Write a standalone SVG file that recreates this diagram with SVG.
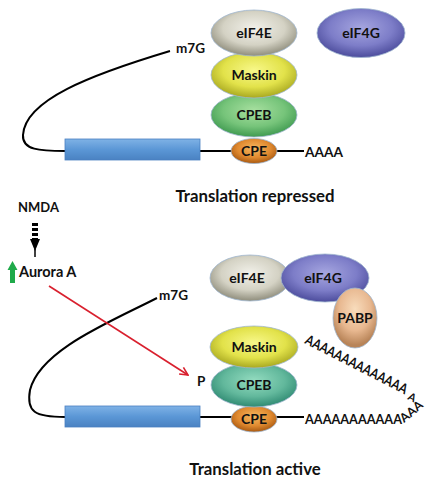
<svg xmlns="http://www.w3.org/2000/svg" width="434" height="483" viewBox="0 0 434 483">
<defs>
<radialGradient id="gE" cx="50%" cy="40%" r="60%"><stop offset="0" stop-color="#f2f1ea"/><stop offset="0.6" stop-color="#d4d2c4"/><stop offset="1" stop-color="#8f8d7c"/></radialGradient>
<radialGradient id="gG" cx="50%" cy="40%" r="60%"><stop offset="0" stop-color="#a6a6e0"/><stop offset="0.6" stop-color="#7d7dc8"/><stop offset="1" stop-color="#4c4c9c"/></radialGradient>
<radialGradient id="gM" cx="50%" cy="40%" r="60%"><stop offset="0" stop-color="#f8f88a"/><stop offset="0.6" stop-color="#e2e24a"/><stop offset="1" stop-color="#a8a820"/></radialGradient>
<radialGradient id="gC1" cx="50%" cy="40%" r="60%"><stop offset="0" stop-color="#a8e0a0"/><stop offset="0.6" stop-color="#76c47a"/><stop offset="1" stop-color="#3f9a50"/></radialGradient>
<radialGradient id="gC2" cx="50%" cy="40%" r="60%"><stop offset="0" stop-color="#94dcc0"/><stop offset="0.6" stop-color="#62b89c"/><stop offset="1" stop-color="#2f8a72"/></radialGradient>
<radialGradient id="gO" cx="50%" cy="40%" r="60%"><stop offset="0" stop-color="#f6b860"/><stop offset="0.6" stop-color="#e08a30"/><stop offset="1" stop-color="#a85810"/></radialGradient>
<radialGradient id="gP" cx="50%" cy="35%" r="60%"><stop offset="0" stop-color="#f8dcbc"/><stop offset="0.6" stop-color="#e8b890"/><stop offset="1" stop-color="#b88458"/></radialGradient>
<linearGradient id="gR" x1="0" y1="0" x2="0" y2="1"><stop offset="0" stop-color="#7fb2e6"/><stop offset="0.5" stop-color="#5b97d6"/><stop offset="1" stop-color="#4a82c2"/></linearGradient>
<marker id="redHead" viewBox="0 0 10 10" refX="9" refY="5" markerWidth="10" markerHeight="10" markerUnits="userSpaceOnUse" orient="auto">
<path d="M1,1 L9,5 L1,9" fill="none" stroke="#d9202e" stroke-width="1.6"/>
</marker>
</defs>
<style>
.t{font-family:Lato,"Open Sans","Liberation Sans",sans-serif;font-weight:bold;fill:#111;}
.lbl{font-size:14px;text-anchor:middle;}
.blob{stroke:#9fb6cf;stroke-width:0.8;}
.wire{fill:none;stroke:#000;stroke-width:2;}
.poly{font-size:14px;}
</style>

<g id="connectors">
<path class="wire" d="M170,51 C 90,75 25,100 23,135 C 22,150 40,151 65,151"/>
<line class="wire" x1="200" y1="151" x2="232" y2="151"/>
<line class="wire" x1="276" y1="151" x2="304" y2="151"/>
<path class="wire" d="M157,298 C 110,322 40,350 30,390 C 26,412 35,417 65,417"/>
<line class="wire" x1="200" y1="417" x2="232" y2="417"/>
<line class="wire" x1="276" y1="417" x2="304" y2="417"/>
<line x1="49" y1="286" x2="188" y2="375" stroke="#d9202e" stroke-width="1.6" marker-end="url(#redHead)"/>
<g id="nmda-arrow">
<line x1="35" y1="223" x2="35" y2="239" stroke="#000" stroke-width="6" stroke-dasharray="3,2"/>
<polygon points="30,239 40,239 35,251" fill="#000"/>
<line x1="35" y1="249" x2="35" y2="257" stroke="#000" stroke-width="1.5"/>
</g>
<polygon id="up-arrow" points="12.5,261 17.5,270 15,270 15,283 10,283 10,270 7.5,270" fill="#1faa4a"/>
</g>

<g id="top-mrna">
<rect x="65" y="139" width="135" height="21" fill="url(#gR)" stroke="#4a7fc0" stroke-width="0.8"/>
<text class="t" x="176" y="53" font-size="13.5">m7G</text>
<text class="t" x="305" y="157" font-size="14" textLength="38" lengthAdjust="spacingAndGlyphs">AAAA</text>
</g>
<g id="top-CPE"><ellipse class="blob" cx="254" cy="151" rx="23" ry="12.5" fill="url(#gO)"/><text class="t lbl" x="254" y="156">CPE</text></g>
<g id="top-CPEB"><ellipse class="blob" cx="254" cy="115" rx="43" ry="22" fill="url(#gC1)"/><text class="t lbl" x="254" y="120">CPEB</text></g>
<g id="top-Maskin"><ellipse class="blob" cx="254" cy="75" rx="43" ry="23" fill="url(#gM)"/><text class="t lbl" x="254" y="80">Maskin</text></g>
<g id="top-eIF4E"><ellipse class="blob" cx="254" cy="33" rx="43" ry="23" fill="url(#gE)"/><text class="t lbl" x="254" y="38">eIF4E</text></g>
<g id="top-eIF4G"><ellipse class="blob" cx="361" cy="33" rx="44" ry="24.5" fill="url(#gG)"/><text class="t lbl" x="361" y="38">eIF4G</text></g>
<text class="t" x="255" y="202" font-size="16.8" text-anchor="middle">Translation repressed</text>

<g id="nmda"><text class="t" x="18" y="212" font-size="13">NMDA</text></g>
<g id="aurora"><text class="t" x="19" y="277" font-size="14.5">Aurora A</text></g>

<g id="bottom-mrna">
<rect x="65" y="406" width="135" height="21" fill="url(#gR)" stroke="#4a7fc0" stroke-width="0.8"/>
<text class="t" x="159" y="300" font-size="13.5">m7G</text>
<text class="t" x="197" y="386" font-size="13.5">P</text>
<text class="t poly" x="305" y="424" textLength="97" lengthAdjust="spacingAndGlyphs">AAAAAAAAAAA</text>
<text class="t" transform="translate(404,423) rotate(-40)" font-size="12" textLength="26" lengthAdjust="spacingAndGlyphs">AAA</text>
<text class="t poly" transform="translate(304,343) rotate(27)" textLength="113" lengthAdjust="spacingAndGlyphs">AAAAAAAAAAAAAA</text>
<text class="t" transform="translate(407,399) rotate(27)" font-size="11">A</text>
</g>
<g id="bottom-CPE"><ellipse class="blob" cx="254" cy="419" rx="23" ry="13" fill="url(#gO)"/><text class="t lbl" x="254" y="424">CPE</text></g>
<g id="bottom-CPEB"><ellipse class="blob" cx="254" cy="385" rx="43" ry="22" fill="url(#gC2)"/><text class="t lbl" x="254" y="390">CPEB</text></g>
<g id="bottom-Maskin"><ellipse class="blob" cx="254" cy="347" rx="44" ry="21" fill="url(#gM)"/><text class="t lbl" x="254" y="352">Maskin</text></g>
<g id="bottom-eIF4E"><ellipse class="blob" cx="250" cy="278" rx="40" ry="23" fill="url(#gE)"/><text class="t lbl" x="247" y="283">eIF4E</text></g>
<g id="bottom-eIF4G"><ellipse class="blob" cx="325" cy="278" rx="44" ry="24" fill="url(#gG)"/><text class="t lbl" x="323" y="283">eIF4G</text></g>
<g id="bottom-PABP"><ellipse class="blob" cx="355" cy="318" rx="22" ry="30" fill="url(#gP)"/><text class="t lbl" x="355" y="323">PABP</text></g>
<text class="t" x="255" y="475" font-size="16.8" text-anchor="middle">Translation active</text>
</svg>
